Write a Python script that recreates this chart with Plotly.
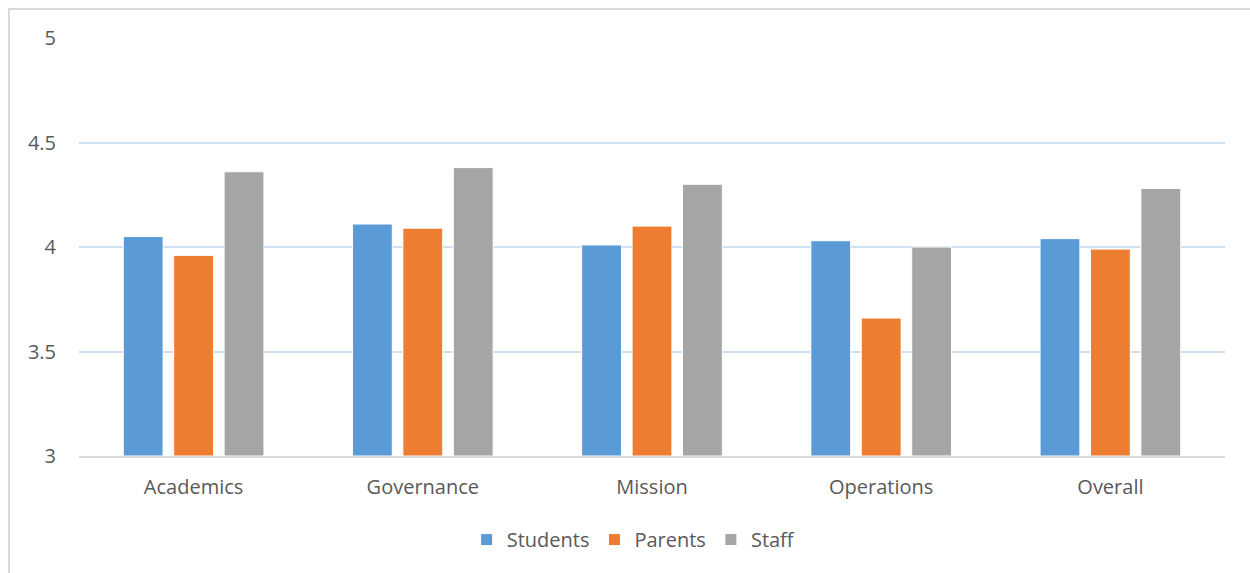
import plotly.graph_objects as go

categories = ["Academics", "Governance", "Mission", "Operations", "Overall"]
students = [4.05, 4.11, 4.01, 4.03, 4.04]
parents = [3.96, 4.09, 4.10, 3.66, 3.99]
staff = [4.36, 4.38, 4.30, 4.00, 4.28]
y_ticks = [3, 3.5, 4, 4.5, 5]
y_tick_labels = ["3", "3.5", "4", "4.5", "5"]

series = [("Students", students, "#5B9BD5"),
          ("Parents", parents, "#ED7D31"),
          ("Staff", staff, "#A5A5A5")]

fig = go.Figure()
for name, vals, color in series:
    fig.add_trace(go.Bar(
        x=categories, y=[v - 3 for v in vals], base=3, name=name,
        marker=dict(color=color, line=dict(color="white", width=1)),
    ))

font_family = "Open Sans, Liberation Sans, sans-serif"
fig.update_layout(
    width=1250, height=573,
    margin=dict(l=79, r=25, t=38, b=117),
    paper_bgcolor="white", plot_bgcolor="white",
    barmode="group", bargap=0.34, bargroupgap=0.21,
    font=dict(family=font_family, size=20, color="#595959"),
    legend=dict(orientation="h", x=0.484, xanchor="center", y=-0.2, yanchor="middle",
                font=dict(size=20, color="#595959"), itemwidth=30, traceorder="normal"),
    showlegend=True,
    xaxis=dict(showline=True, linecolor="#D9D9D9", linewidth=2, showgrid=False,
               ticks="", ticklabelstandoff=12, tickfont=dict(size=20, color="#595959")),
    yaxis=dict(range=[3, 5], tickvals=y_ticks, ticktext=y_tick_labels,
               showgrid=True, gridcolor="#CFE0F3", gridwidth=1.5, zeroline=False,
               showline=False, ticks="", ticklabelstandoff=22,
               tickfont=dict(size=20, color="#595959")),
    shapes=[dict(type="rect", xref="paper", yref="paper",
                 x0=-0.0611, x1=1.1, y0=-0.5, y1=1.0694,
                 line=dict(color="#D9D9D9", width=2), fillcolor="rgba(0,0,0,0)", layer="below")],
)

fig.write_html("out.html")
